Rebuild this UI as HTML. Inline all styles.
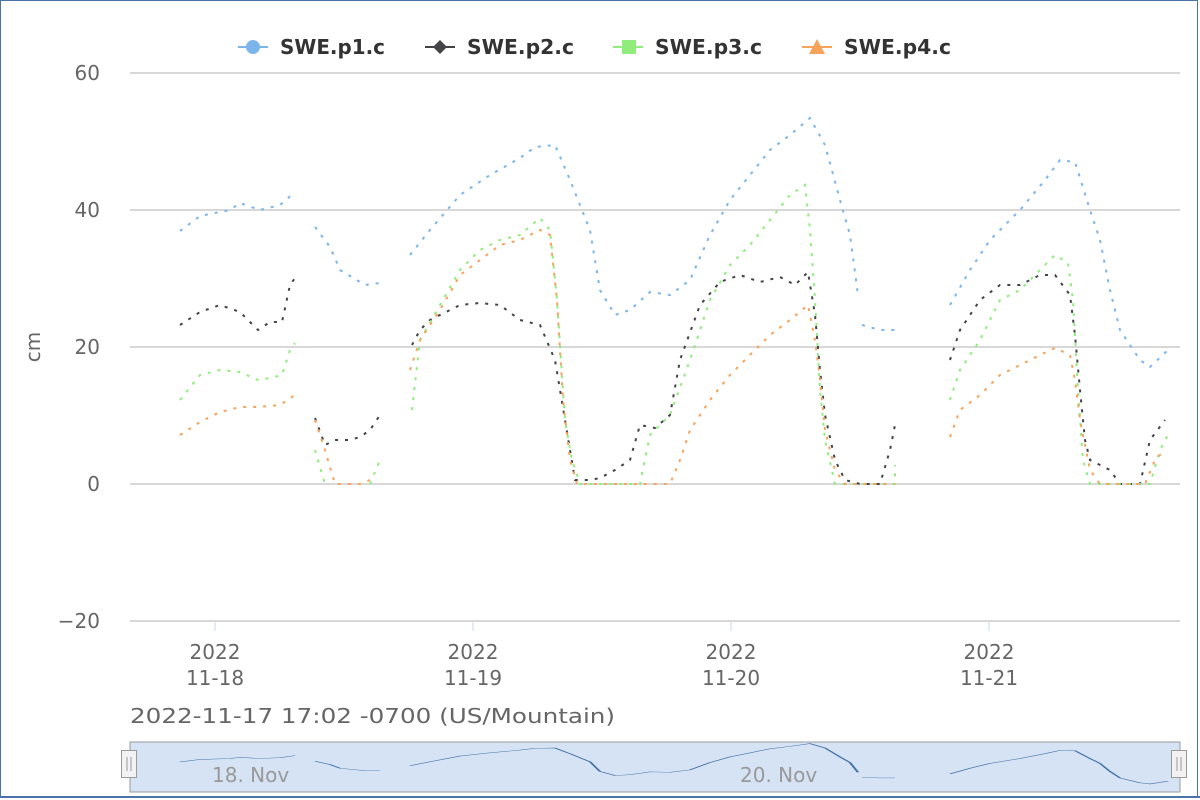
<!DOCTYPE html>
<html><head><style>
body{margin:0;background:#fff;}
svg{display:block;font-family:"DejaVu Sans","Liberation Sans",sans-serif;}
</style></head><body>
<svg width="1200" height="800" viewBox="0 0 1200 800">
<rect x="0.5" y="0.5" width="1197" height="797" fill="#fff" stroke="#4a74a8" stroke-width="1"/>
<g stroke="#cccccc" stroke-width="1.5">
<line x1="130" y1="73" x2="1180" y2="73"/>
<line x1="130" y1="210" x2="1180" y2="210"/>
<line x1="130" y1="347" x2="1180" y2="347"/>
<line x1="130" y1="484" x2="1180" y2="484"/>
<line x1="130" y1="621" x2="1180" y2="621"/>
</g>
<g stroke="#ccd6eb" stroke-width="1">
<line x1="215" y1="621" x2="215" y2="631"/><line x1="473" y1="621" x2="473" y2="631"/>
<line x1="731" y1="621" x2="731" y2="631"/><line x1="989" y1="621" x2="989" y2="631"/>
</g>
<g fill="#666" font-size="20" text-anchor="end">
<text x="100" y="80">60</text><text x="100" y="217">40</text><text x="100" y="354">20</text>
<text x="100" y="491">0</text><text x="100" y="628">−20</text>
</g>
<text transform="translate(40,347) rotate(-90)" fill="#666" font-size="20" text-anchor="middle">cm</text>
<g fill="#666" font-size="20" text-anchor="middle">
<text x="215" y="659">2022</text><text x="215" y="685">11-18</text>
<text x="473" y="659">2022</text><text x="473" y="685">11-19</text>
<text x="731" y="659">2022</text><text x="731" y="685">11-20</text>
<text x="989" y="659">2022</text><text x="989" y="685">11-21</text>
</g>
<text x="130" y="723" fill="#666" font-size="20" textLength="485" lengthAdjust="spacingAndGlyphs">2022-11-17 17:02 -0700 (US/Mountain)</text>
<g font-size="20" font-weight="bold" fill="#333">
<line x1="238" y1="47" x2="268" y2="47" stroke="#7cb5ec" stroke-width="2"/><circle cx="253" cy="47" r="7" fill="#7cb5ec"/>
<text x="280" y="54" textLength="105" lengthAdjust="spacingAndGlyphs">SWE.p1.c</text>
<line x1="425" y1="47" x2="455" y2="47" stroke="#434348" stroke-width="2"/><path d="M440 40 L447 47 L440 54 L433 47Z" fill="#434348"/>
<text x="467" y="54" textLength="107" lengthAdjust="spacingAndGlyphs">SWE.p2.c</text>
<line x1="613" y1="47" x2="643" y2="47" stroke="#90ed7d" stroke-width="2"/><rect x="622" y="40" width="14" height="14" fill="#90ed7d"/>
<text x="655" y="54" textLength="107" lengthAdjust="spacingAndGlyphs">SWE.p3.c</text>
<line x1="802" y1="47" x2="832" y2="47" stroke="#f7a35c" stroke-width="2"/><path d="M817 39 L825 54 L809 54Z" fill="#f7a35c"/>
<text x="844" y="54" textLength="107" lengthAdjust="spacingAndGlyphs">SWE.p4.c</text>
</g>
<defs>
<g id="p1">
<polyline points="180,231 200,216 230,210 240,203 260,210 280,205 295,192"/>
<polyline points="315,227 330,247 340,270 365,285 380,283"/>
<polyline points="410,255 430,230 460,195 490,175 520,158 535,147 555,145 570,180 590,230 600,290 615,315 630,310 650,292 670,295 690,280 710,235 730,200 750,175 770,150 790,135 810,118 825,145 840,200 850,235 858,295"/>
<polyline points="862,325 880,330 895,330"/>
<polyline points="950,305 970,270 990,240 1020,210 1045,180 1060,160 1075,162 1090,210 1100,240 1110,290 1120,330 1140,360 1150,367 1168,350"/>
</g>
</defs>
<g fill="none" stroke-width="2" stroke-dasharray="3,7">
<use href="#p1" stroke="#7cb5ec"/>
<g stroke="#434348">
<polyline points="180,325 200,312 220,305 240,312 258,330 270,322 282,322 290,285 295,278"/>
<polyline points="315,418 325,445 335,440 350,440 360,437 370,430 380,415"/>
<polyline points="412,345 420,330 430,320 460,305 480,303 500,305 520,320 540,325 555,360 565,420 575,480 590,480 600,478 615,470 630,460 640,425 655,428 670,415 680,360 700,305 720,282 740,275 760,282 780,277 795,285 808,272 815,315 820,370 825,415 835,460 845,480 860,484 880,484 890,450 895,425"/>
<polyline points="950,360 960,330 980,300 1000,285 1020,285 1040,275 1055,275 1070,295 1075,335 1080,390 1085,440 1090,460 1100,465 1110,470 1120,484 1140,484 1150,440 1165,420"/>
</g>
<g stroke="#90ed7d">
<polyline points="180,400 200,375 220,370 240,372 258,380 270,378 282,375 290,350 295,343"/>
<polyline points="315,450 325,484"/><polyline points="370,484 380,460"/>
<polyline points="412,410 420,340 440,305 460,270 480,250 500,240 520,235 540,218 550,230 557,300 565,420 572,460 580,484 640,484 650,435 670,415 690,360 710,300 730,265 750,245 770,220 790,195 805,185 810,230 815,300 820,390 825,440 835,484 895,484 895,465"/>
<polyline points="950,400 960,370 980,340 1000,300 1020,290 1040,270 1055,255 1068,263 1073,300 1078,390 1083,460 1090,484 1150,484 1160,450 1168,435"/>
</g>
<g stroke="#f7a35c">
<polyline points="180,435 200,422 220,412 240,407 258,407 280,405 295,395"/>
<polyline points="315,420 325,450 335,484 360,484 370,480"/>
<polyline points="410,370 420,340 440,310 460,275 480,260 500,245 520,240 540,230 550,235 557,300 563,400 570,460 577,484 670,484 680,460 690,430 710,400 730,375 750,355 770,335 790,320 808,305 815,340 820,380 825,430 835,470 845,484 895,484"/>
<polyline points="950,437 960,410 980,395 1000,375 1020,365 1040,355 1055,348 1070,355 1075,380 1080,420 1090,470 1100,484 1145,484 1155,460 1165,450"/>
</g>
</g>
<rect x="130" y="742" width="1050" height="50" fill="#d5e3f5" stroke="#999" stroke-width="1"/>
<g fill="#999" font-size="20"><text x="212" y="782">18. Nov</text><text x="740" y="782">20. Nov</text></g>
<g transform="translate(0,724.5) scale(1,0.162)" fill="none" stroke="#4572a7" stroke-width="2.5">
<use href="#p1" vector-effect="non-scaling-stroke"/>
</g>
<g fill="#f2f2f2" stroke="#999">
<rect x="121.5" y="750.5" width="15" height="27"/><rect x="1171.5" y="750.5" width="15" height="27"/>
</g>
<g stroke="#999"><line x1="127" y1="757" x2="127" y2="771"/><line x1="131" y1="757" x2="131" y2="771"/>
<line x1="1177" y1="757" x2="1177" y2="771"/><line x1="1181" y1="757" x2="1181" y2="771"/></g>
<line x1="0" y1="797" x2="1200" y2="797" stroke="#4a74a8" stroke-width="2"/>
</svg>
</body></html>
